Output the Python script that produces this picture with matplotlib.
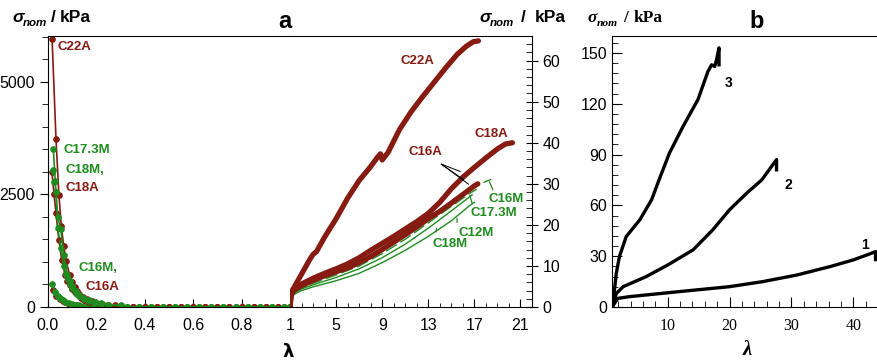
import numpy as np
import matplotlib.pyplot as plt
from matplotlib.ticker import MultipleLocator, FixedLocator, FixedFormatter

BROWN = '#861b12'
GREEN = '#1f8c1f'
SANS = 'Liberation Sans'
SERIF = 'Liberation Serif'

# ---- panel a, compression branch (lambda < 1), sigma in kPa
lam_c22a = [0.017, 0.033, 0.045, 0.055, 0.065, 0.075, 0.09, 0.1, 0.11, 0.12, 0.13, 0.145, 0.16, 0.18, 0.2, 0.225, 0.25, 0.275]
sig_c22a = [5950, 3730, 2490, 1800, 1350, 1020, 700, 560, 440, 360, 290, 220, 170, 125, 95, 68, 50, 38]
lam_c18a = [0.016, 0.025, 0.033, 0.045, 0.057, 0.07, 0.08, 0.09, 0.1, 0.11, 0.12, 0.135, 0.15, 0.17, 0.2, 0.225, 0.25, 0.275]
sig_c18a = [3000, 2500, 2090, 1490, 1040, 720, 580, 480, 400, 330, 280, 210, 160, 115, 80, 58, 42, 32]
lam_c16a = [0.02, 0.035, 0.05, 0.06, 0.07, 0.085, 0.1, 0.115, 0.13, 0.15, 0.17, 0.195, 0.22, 0.25, 0.275]
sig_c16a = [378, 250, 170, 135, 105, 75, 55, 40, 30, 21, 15, 11, 8, 5, 4]
lam_c173m = [0.022, 0.03, 0.04, 0.053, 0.065, 0.08, 0.09, 0.1, 0.115, 0.13, 0.15, 0.17, 0.195, 0.22, 0.25, 0.3]
sig_c173m = [3510, 2800, 2000, 1730, 1150, 720, 580, 470, 350, 270, 195, 150, 105, 80, 55, 35]
lam_c18m = [0.019, 0.025, 0.033, 0.04, 0.053, 0.065, 0.075, 0.083, 0.092, 0.1, 0.115, 0.13, 0.15, 0.17, 0.195, 0.22, 0.25, 0.3]
sig_c18m = [3040, 2780, 2560, 1755, 1311, 900, 730, 620, 500, 420, 320, 240, 175, 130, 90, 65, 45, 30]
lam_c16m = [0.016, 0.03, 0.04, 0.05, 0.06, 0.07, 0.085, 0.1, 0.115, 0.13, 0.15, 0.17, 0.195, 0.22, 0.25, 0.3]
sig_c16m = [511, 330, 250, 200, 155, 120, 90, 65, 47, 35, 25, 18, 12, 9, 6, 4]
# near-zero tails of the compression curves
tail_lam_a = [0.3, 0.35, 0.4, 0.45, 0.5, 0.55, 0.6, 0.65, 0.7, 0.75, 0.8, 0.85, 0.9, 0.95, 1.0]
tail_lam_m = [0.325, 0.375, 0.425, 0.475, 0.525, 0.575, 0.625, 0.675, 0.725, 0.775, 0.825, 0.875, 0.925, 0.975, 1.0]
tail_sig = [3, 2, 1.5, 1, 1, 0.5, 0.5, 0.5, 0.3, 0.3, 0.2, 0.2, 0.1, 0.1, 0]

# ---- panel a, tension branch (lambda > 1)
t_lam_c22a = [1, 1.05, 1.2, 1.5, 2.0, 2.7, 3.0, 3.3, 4.0, 5.0, 6.0, 7.0, 8.0, 8.6, 8.85, 9.0, 9.5, 10.5, 11.5, 12.5, 13.5, 14.5, 15.5, 16.3, 16.9, 17.35]
t_sig_c22a = [0, 2.5, 4.0, 5.5, 8.0, 11.5, 12.8, 13.5, 17, 21.5, 26.5, 30.8, 34.2, 36.5, 37.3, 35.8, 37.6, 43.2, 47.5, 51.2, 54.7, 58.2, 61.5, 63.5, 64.6, 64.8]
t_lam_c18a = [1, 1.1, 1.3, 2, 3, 4, 5, 6, 7, 8, 9, 10, 11, 12, 13, 14, 15, 16, 17, 18, 19, 19.7, 20.3]
t_sig_c18a = [0, 3, 4.3, 5.6, 7, 8.2, 9.3, 10.5, 12, 13.8, 15.5, 17.2, 19, 20.8, 22.8, 25.5, 28.8, 31.6, 34, 36.3, 38.5, 39.7, 40]
t_lam_c16a = [1, 1.1, 1.3, 2, 3, 4, 5, 6, 7, 8, 9, 10, 11, 12, 13, 14, 15, 16, 17, 17.3]
t_sig_c16a = [0, 2.8, 4, 5.2, 6.5, 7.6, 8.6, 9.5, 10.8, 12.3, 14, 15.8, 17.6, 19.5, 21.5, 23.3, 25.3, 27.4, 29.5, 30]
t_lam_c16m = [1, 1.1, 1.3, 2, 3, 4, 5, 6, 7, 8, 9, 10, 11, 12, 13, 14, 15, 16, 17, 18, 18.9]
t_sig_c16m = [0, 2.5, 3.8, 5, 6.2, 7.3, 8.3, 9.4, 10.7, 12.3, 14, 15.8, 17.6, 19.6, 21.6, 23.6, 25.6, 27.5, 29.2, 30.6, 31.5]
t_lam_c173m = [1, 1.3, 2, 3, 5, 7, 9, 11, 13, 15, 16.5, 17.2]
t_sig_c173m = [0, 3.5, 4.7, 5.8, 7.8, 10, 13, 16.5, 20.5, 24.5, 27.5, 28.7]
t_lam_c12m = [1, 1.3, 2, 3, 5, 7, 9, 11, 13, 15, 16.8]
t_sig_c12m = [0, 3.3, 4.4, 5.4, 7.2, 9.3, 12, 15.3, 19.2, 23.4, 27.3]
t_lam_c18m = [1, 1.3, 2, 3, 5, 7, 9, 11, 13, 15, 16.5, 17]
t_sig_c18m = [0, 3, 4, 4.9, 6.4, 8.2, 10.8, 13.8, 17.2, 21, 24.5, 25.5]

# ---- panel b
b_lam_1 = [1, 1.1, 1.95, 3.8, 11.9, 20, 25.4, 30.9, 36.3, 40, 42.7, 43.6, 43.6]
b_sig_1 = [0, 0.5, 5.1, 6.1, 9.1, 12, 15, 18.9, 23.9, 27.8, 31.4, 32.7, 28]
b_lam_2 = [1, 1.1, 1.7, 2.8, 6.5, 10.05, 14.1, 17.3, 20, 22.8, 25.2, 26.8, 27.6, 27.6]
b_sig_2 = [0, 0.5, 8, 12, 17.9, 24.9, 33.7, 45.6, 57.4, 67.3, 75, 83, 87, 81]
b_lam_3 = [1, 1.1, 1.7, 2.2, 3.3, 5.5, 7.4, 8.6, 10.3, 12.5, 14.9, 16.5, 17.1, 17.6, 17.9, 18.3, 18.3]
b_sig_3 = [0, 0.5, 20, 29.8, 41.6, 51.5, 63.3, 75, 91, 106.7, 122.5, 139, 143, 142, 146, 153, 143]

W, H = 878, 360
fig = plt.figure(figsize=(W / 100, H / 100), dpi=100)


def box(x0, y0, x1, y1):
    return [x0 / W, 1 - y1 / H, (x1 - x0) / W, (y1 - y0) / H]


def sigma_label(xs, y, family, size=12.5):
    # xs: pixel x of sigma, subscript, slash, kPa
    fig.text(xs[0] / W, 1 - y / H, '\u03c3', family=family, style='italic', weight='bold', size=size, va='center')
    fig.text(xs[1] / W, 1 - (y + 6) / H, 'nom', family=family, style='italic', weight='bold', size=size * 0.66, va='center')
    fig.text(xs[2] / W, 1 - y / H, '/', family=family, weight='bold', size=size, va='center')
    fig.text(xs[3] / W, 1 - y / H, 'kPa', family=family, weight='bold', size=size, va='center')


# ===== panel a, left part
axl = fig.add_axes(box(48, 36, 290, 307))
mk = dict(lw=1.2, ms=3.8)
axl.plot(lam_c16a + tail_lam_a, sig_c16a + tail_sig, '-o', color=BROWN, **mk)
axl.plot(lam_c16m + tail_lam_m, sig_c16m + tail_sig, '--o', color=GREEN, **mk)
axl.plot(lam_c18a + tail_lam_a, sig_c18a + tail_sig, '-o', color=BROWN, **mk)
axl.plot(lam_c22a + tail_lam_a, sig_c22a + tail_sig, '-o', color=BROWN, **mk)
axl.plot(lam_c18m + tail_lam_m, sig_c18m + tail_sig, '--o', color=GREEN, **mk)
axl.plot(lam_c173m + tail_lam_m, sig_c173m + tail_sig, '-o', color=GREEN, **mk)
axl.set_xlim(0, 1)
axl.set_ylim(0, 6020)
axl.spines['right'].set_visible(False)
axl.xaxis.set_major_locator(FixedLocator([0, 0.2, 0.4, 0.6, 0.8]))
axl.xaxis.set_major_formatter(FixedFormatter(['0.0', '0.2', '0.4', '0.6', '0.8']))
axl.yaxis.set_major_locator(MultipleLocator(2500))
axl.yaxis.set_minor_locator(MultipleLocator(500))
axl.tick_params(axis='x', direction='in', length=6, labelsize=11.5, pad=8)
axl.tick_params(axis='y', which='major', direction='out', length=6, labelsize=11.5)
axl.tick_params(axis='y', which='minor', direction='out', length=4)
for lab in axl.get_xticklabels() + axl.get_yticklabels():
    lab.set_family(SANS)

txt = dict(family=SANS, weight='bold', size=9.5, va='center')
axl.text(0.041, 5780, 'C22A', color=BROWN, **txt)
axl.text(0.062, 3490, 'C17.3M', color=GREEN, **txt)
axl.text(0.074, 3044, 'C18M,', color=GREEN, **txt)
axl.text(0.074, 2644, 'C18A', color=BROWN, **txt)
axl.text(0.124, 867, 'C16M,', color=GREEN, **txt)
axl.text(0.153, 444, 'C16A', color=BROWN, **txt)

# ===== panel a, right part
axr = fig.add_axes(box(290, 36, 532, 307))
axr.plot(t_lam_c18m, t_sig_c18m, '-', color=GREEN, lw=1.0)
axr.plot(t_lam_c12m, t_sig_c12m, '-', color=GREEN, lw=1.0)
axr.plot(t_lam_c173m, t_sig_c173m, '--', color=GREEN, lw=1.0, dashes=(9, 3))
axr.plot(t_lam_c16m, t_sig_c16m, '--', color=GREEN, lw=1.0, dashes=(6, 4))
axr.plot(t_lam_c16a, t_sig_c16a, '-', color=BROWN, lw=3.8, solid_capstyle='round')
axr.plot(t_lam_c18a, t_sig_c18a, '-', color=BROWN, lw=3.8, solid_capstyle='round')
axr.plot(t_lam_c22a, t_sig_c22a, '-', color=BROWN, lw=3.8, solid_capstyle='round')
axr.set_xlim(1, 22)
axr.set_ylim(0, 66)
axr.spines['left'].set_visible(False)
axr.yaxis.tick_right()
axr.xaxis.set_major_locator(FixedLocator([1, 5, 9, 13, 17, 21]))
axr.xaxis.set_minor_locator(MultipleLocator(1))
axr.yaxis.set_major_locator(MultipleLocator(10))
axr.yaxis.set_minor_locator(MultipleLocator(2))
axr.tick_params(axis='x', which='major', direction='in', length=6, labelsize=11.5, pad=8)
axr.tick_params(axis='x', which='minor', direction='in', length=3)
axr.tick_params(axis='y', which='major', direction='inout', length=8, labelsize=11.5)
axr.tick_params(axis='y', which='minor', direction='in', length=4)
for lab in axr.get_xticklabels() + axr.get_yticklabels():
    lab.set_family(SANS)

axr.text(10.57, 60, 'C22A', color=BROWN, **txt)
axr.text(17.0, 42.2, 'C18A', color=BROWN, **txt)
axr.text(11.3, 37.8, 'C16A', color=BROWN, **txt)
axr.text(18.2, 26.3, 'C16M', color=GREEN, **txt)
axr.text(16.7, 22.9, 'C17.3M', color=GREEN, **txt)
axr.text(15.6, 18.0, 'C12M', color=GREEN, **txt)
axr.text(13.35, 15.4, 'C18M', color=GREEN, **txt)

for tip in [(15.78, 33.0), (16.07, 31.0), (16.5, 29.9)]:
    axr.annotate('', xy=tip, xytext=(14.13, 34.8),
                 arrowprops=dict(arrowstyle='-', color='black', lw=0.7, shrinkA=0, shrinkB=0))
leaders = [((18.6, 28.6), (18.3, 30.5)), ((16.8, 25.3), (16.6, 27.2)),
           ((15.5, 20.6), (15.5, 21.6)), ((13.7, 18.3), (13.7, 19.1))]
for a, b in leaders:
    axr.annotate('', xy=b, xytext=a,
                 arrowprops=dict(arrowstyle='-', color=GREEN, lw=0.9, shrinkA=0, shrinkB=0))

sigma_label([12, 23, 51, 60], 17, SANS)
sigma_label([479, 490, 521, 535], 17, SANS)
fig.text(285 / W, 1 - 21 / H, 'a', family=SANS, weight='bold', size=17, ha='center', va='center')
fig.text(288 / W, 1 - 352 / H, '\u03bb', family='DejaVu Sans', weight='bold', size=13, ha='center', va='center')

# ===== panel b
axb = fig.add_axes(box(612, 36, 878, 307))
axb.plot(b_lam_1, b_sig_1, '-', color='black', lw=2.4)
axb.plot(b_lam_2, b_sig_2, '-', color='black', lw=2.4)
axb.plot(b_lam_3, b_sig_3, '-', color='black', lw=2.4)
axb.set_xlim(1, 44)
axb.set_ylim(0, 160)
axb.spines['right'].set_visible(False)
axb.xaxis.set_major_locator(FixedLocator([10, 20, 30, 40]))
axb.xaxis.set_minor_locator(MultipleLocator(2))
axb.yaxis.set_major_locator(MultipleLocator(30))
axb.yaxis.set_minor_locator(MultipleLocator(6))
axb.tick_params(which='major', direction='in', length=7, labelsize=11.5)
axb.tick_params(which='minor', direction='in', length=4)
axb.tick_params(axis='x', pad=8)
for lab in axb.get_xticklabels():
    lab.set_family(SERIF)
for lab in axb.get_yticklabels():
    lab.set_family(SANS)
axb.text(19.9, 132.5, '3', family=SANS, weight='bold', size=10, ha='center', va='center')
axb.text(29.5, 72, '2', family=SANS, weight='bold', size=10, ha='center', va='center')
axb.text(41.9, 36.7, '1', family=SANS, weight='bold', size=10, ha='center', va='center')

sigma_label([587, 597, 623, 634], 18, SERIF, size=12.5)
fig.text(757 / W, 1 - 21 / H, 'b', family=SANS, weight='bold', size=17, ha='center', va='center')
fig.text(747 / W, 1 - 350 / H, '\u03bb', family=SERIF, style='italic', weight='bold', size=15, ha='center', va='center')

fig.savefig('out.png', dpi=100)
